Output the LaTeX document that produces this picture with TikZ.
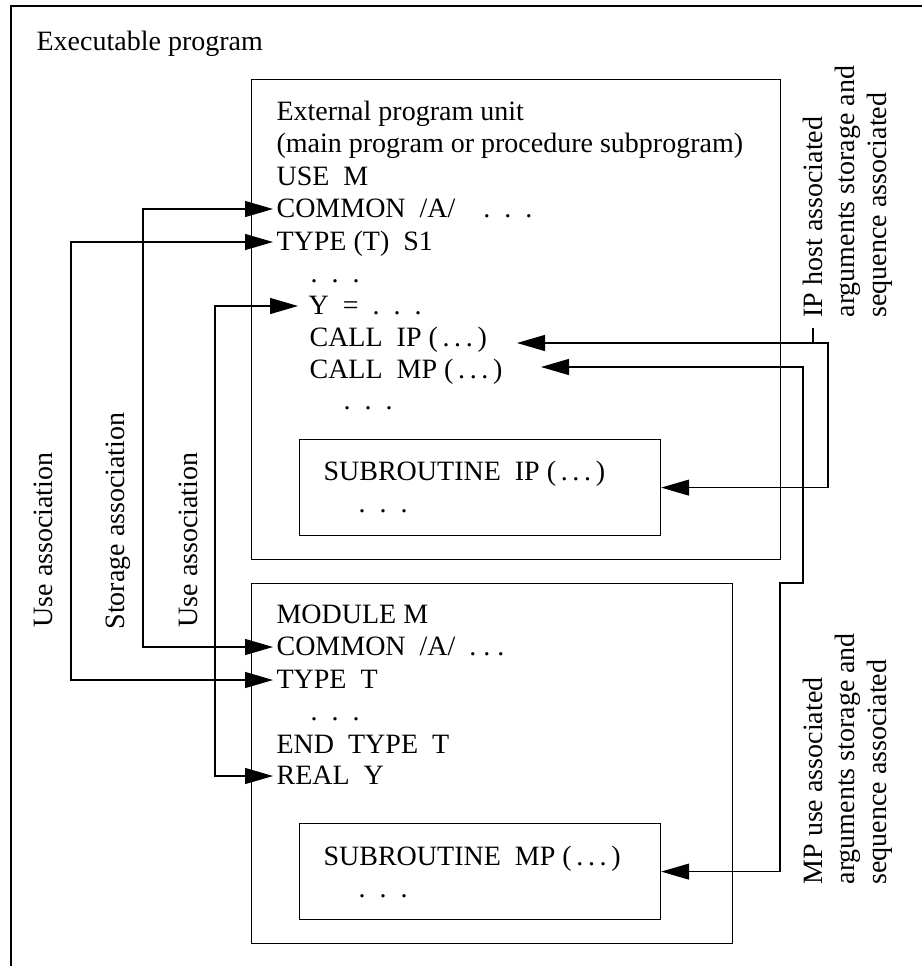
\documentclass[tikz,border=0pt]{standalone}
\usepackage{fontspec}
\setmainfont{Liberation Serif}
\usepackage{tikz}
\usetikzlibrary{arrows.meta}
\newcommand{\spacedots}{.\hspace{.5em}.\hspace{.5em}.}
\newcommand{\argdots}{(\,.\,.\,.\,)}

\begin{document}
\begin{tikzpicture}[x=0.5pt, y=-0.5pt, line width=0.6pt,
    font=\fontsize{14}{16}\selectfont,
    line/.style={anchor=base west, inner sep=0pt, text height=10pt, text depth=2pt},
    unit/.style={draw, anchor=north west, inner sep=0pt},
    side/.style={rotate=90, anchor=base west, inner sep=0pt},
    note/.style={rotate=90, anchor=north west, inner sep=0pt, align=left},
    assoc/.style={{Triangle[length=14pt,width=8pt]}-{Triangle[length=14pt,width=8pt]}}]
    \useasboundingbox (0,0) rectangle (922,966);
    \draw (11,966) -- (11,6) -- (922,6);

    \node[line] (title) at (36,50) {Executable program};

    \node[unit, minimum width=264.5pt, minimum height=240pt] (ext) at (251,79) {};
    \node[unit, minimum width=180.5pt, minimum height=48pt] (ipbox) at (299,439) {};
    \node[unit, minimum width=240.5pt, minimum height=180pt] (mod) at (251,583) {};
    \node[unit, minimum width=180.5pt, minimum height=48pt] (mpbox) at (299,823) {};

    \node[line] (eunit) at (276,120) {External program unit};
    \node[line] (ekind) at (276,152) {(main program or procedure subprogram)};
    \node[line] (euse) at (276,185) {USE~~M};
    \node[line] (ecommon) at (276,217) {COMMON~~/A/~~~~\spacedots};
    \node[line] (etype) at (276,250) {TYPE (T)~~S1};
    \node[line] (edots) at (310,282) {\spacedots};
    \node[line] (ey) at (308,314) {Y~~=~~\spacedots};
    \node[line] (ecallip) at (309,346) {CALL~~IP \argdots};
    \node[line] (ecallmp) at (309,378) {CALL~~MP \argdots};
    \node[line] (emore) at (343,409) {\spacedots};
    \node[line] (ipsub) at (323,480) {SUBROUTINE~~IP \argdots};
    \node[line] (ipdots) at (358,512) {\spacedots};

    \node[line] (mname) at (276,623) {MODULE~M};
    \node[line] (mcommon) at (276,655) {COMMON~~/A/~~.\ .\ .};
    \node[line] (mtype) at (276,688) {TYPE~~T};
    \node[line] (mdots) at (310,720) {\spacedots};
    \node[line] (mend) at (276,753) {END~~TYPE~~T};
    \node[line] (mreal) at (276,784) {REAL~~Y};
    \node[line] (mpsub) at (323,865) {SUBROUTINE~~MP \argdots};
    \node[line] (mpdots) at (358,897) {\spacedots};

    \node[side] (useouter) at (53,628) {Use association};
    \node[side] (storage) at (125,630) {Storage association};
    \node[side] (useinner) at (198,628) {Use association};

    \node[note] (ipnote) at (802,318) {IP host associated\\arguments storage and\\sequence associated};
    \node[note] (mpnote) at (802,885) {MP use associated\\arguments storage and\\sequence associated};

    \coordinate (iptip) at (517,343);
    \coordinate (mptip) at (541,367);

    \draw[assoc, shorten <=1.5pt, shorten >=1.5pt] (etype.west) -- ++(-205,0) |- (mtype.west);
    \draw[assoc, shorten <=1.5pt, shorten >=1.5pt] (ecommon.west) -- ++(-133,0) |- (mcommon.west);
    \draw[assoc, shorten <=5pt, shorten >=1.5pt] (ey.west) -- ++(-93,0) |- (mreal.west);
    \draw[assoc] (iptip) -- ++(311,0) |- (ipbox.east);
    \draw[assoc] (mptip) -- ++(262,0) -- ++(0,216) -- ++(-23,0) |- (mpbox.east);
    \draw ([shift={(11,10)}]ipnote.north west) -- ++(0,15);
\end{tikzpicture}
\end{document}
